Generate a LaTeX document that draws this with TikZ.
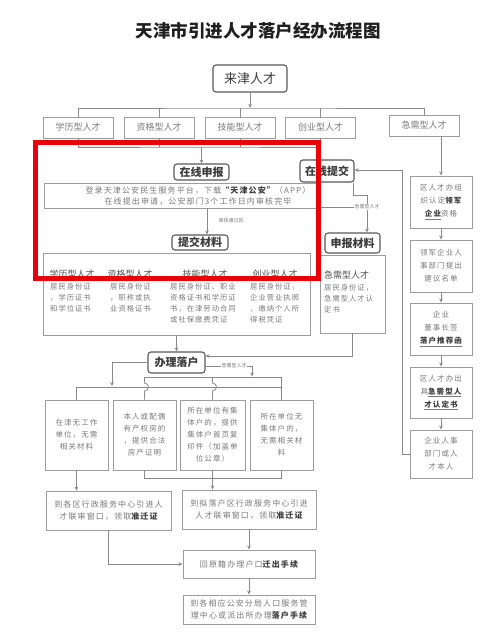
\documentclass[tikz,border=0pt]{standalone}
\usepackage{fontspec}
\setmainfont{Noto Sans CJK SC}
\newfontfamily\tf[LetterSpace=14]{Noto Sans CJK SC}
\usetikzlibrary{arrows.meta}
\definecolor{lc}{HTML}{8A8A8A}
\definecolor{bc}{HTML}{9C9C9C}
\definecolor{tc}{HTML}{7A7A7A}
\definecolor{hc}{HTML}{3C3C3C}
\definecolor{redc}{HTML}{E8000B}
\newcommand{\bk}[1]{{\bfseries\color{hc}#1}}
\newcommand{\bku}[1]{\underline{\bfseries\color{hc}#1}}
\begin{document}
\begin{tikzpicture}[x=1pt,y=-1pt,
 ln/.style={draw=lc, line width=0.8pt},
 arr/.style={ln, -{Stealth[length=4pt,width=3.6pt]}},
 rbox/.style={draw=hc!85, line width=1.1pt, rounded corners=3pt, inner sep=0pt, font=\bfseries\fontsize{11}{13}\selectfont, text=hc},
 sbox/.style={draw=bc, line width=0.9pt, inner sep=0pt},
 cat/.style={sbox, minimum width=70pt, minimum height=21pt, font=\fontsize{9}{11}\selectfont, text=tc},
 sm/.style={font=\tf\fontsize{7.3}{11}\selectfont, text=tc, inner sep=0pt},
 bt/.style={sbox, font=\tf\fontsize{7.5}{12}\selectfont, text=tc, align=center},
 bt8/.style={sbox, font=\tf\fontsize{8}{12}\selectfont, text=tc, align=center},
 hd/.style={font=\fontsize{9}{11}\selectfont, text=hc!90, inner sep=0pt},
 tiny/.style={font=\fontsize{5}{6}\selectfont, text=tc, inner sep=0.6pt, fill=white},
]
\useasboundingbox[fill=white] (0,0) rectangle (487,643);

% title
\node[font=\bfseries\fontsize{17.5}{20}\selectfont, text=black!88] (title) at (258,31) {天津市引进人才落户经办流程图};

% top
\node[rbox, minimum width=74pt, minimum height=27pt, font=\fontsize{13}{15}\selectfont] (laijin) at (250,78.5) {来津人才};
\node[cat] (c1) at (78,127.5) {学历型人才};
\node[cat] (c2) at (159,127.5) {资格型人才};
\node[cat] (c3) at (240,127.5) {技能型人才};
\node[cat] (c4) at (320.5,127.5) {创业型人才};
\node[cat] (c5) at (424,125.5) {急需型人才};

\coordinate (h1) at (250,108);
\draw[arr] (laijin.south) -- (h1);
\draw[ln] (c1.north) |- (h1) -| (c5.north);
\draw[ln] (c2.north) -- (c2.north |- h1);
\draw[ln] (c3.north) -- (c3.north |- h1);
\draw[ln] (c4.north) -- (c4.north |- h1);

% online application
\node[rbox, minimum width=55pt, minimum height=16pt] (zxsb) at (201.5,172) {在线申报};
\coordinate (h2) at (201.5,147);
\draw[ln] (c1.south) |- (h2) -| (c4.south);
\draw[ln] (c2.south) -- (c2.south |- h2);
\draw[ln] (c3.south) -- (c3.south |- h2);
\draw[arr] (h2) -- (zxsb.north);

\node[sbox, minimum width=274pt, minimum height=25pt] (cb1) at (181,195.5) {};
\node[sm, font=\tf\fontsize{8}{11.5}\selectfont, align=center] (cb1t) at (198,196) {登录天津公安民生服务平台，下载\bk{“天津公安”}（APP）\\在线提出申请，公安部门3个工作日内审核完毕};

\node[rbox, minimum width=56pt, minimum height=15pt] (tjcl) at (200,242.5) {提交材料};
\draw[arr] ([xshift=7pt]tjcl.north |- cb1.south) -- ([xshift=7pt]tjcl.north);
\node[tiny, fill=none] (shlab) at (231,221) {审核通过的};

% materials box
\node[sbox, minimum width=267pt, minimum height=82pt] (cb2) at (176.5,294) {};
\node[hd] (m1) at (72,274) {学历型人才};
\node[hd] (m2) at (130,274) {资格型人才};
\node[hd] (m3) at (205,274) {技能型人才};
\node[hd] (m4) at (275,274) {创业型人才};
\node[sm, align=left, anchor=north west] (d1) at (50,283.5) {居民身份证\\，学历证书\\和学位证书};
\node[sm, align=left, anchor=north west] (d2) at (110,283.5) {居民身份证\\，职称或执\\业资格证书};
\node[sm, align=left, anchor=north west] (d3) at (170,283.5) {居民身份证、职业\\资格证书和学历证\\书，在津劳动合同\\或社保缴费凭证};
\node[sm, align=left, anchor=north west] (d4) at (250,283.5) {居民身份证，\\企业营业执照\\，缴纳个人所\\得税凭证};

% urgent branch
\node[rbox, minimum width=54pt, minimum height=22pt] (zxtj) at (327,171) {在线提交};
\node[rbox, minimum width=55pt, minimum height=20pt] (sbcl) at (352.5,243) {申报材料};
\node[sbox, minimum width=65pt, minimum height=78pt] (jxb) at (352.5,294) {};
\node[hd, anchor=west] (jxh) at (324,275) {急需型人才};
\node[sm, align=left, anchor=north west] (jxd) at (324,284) {居民身份证，\\急需型人才认\\定书};

\coordinate (k1) at (367,195);
\draw[arr] ([xshift=-1pt]zxtj.south east) |- (k1) -- (k1 |- sbcl.north);
\node[tiny] (jxlab) at (367,207) {急需型人才};
\draw[ln] (cb1.south east |- jxlab.west) -- (jxlab.west);

% right column
\node[bt, minimum width=62pt, minimum height=52pt, font=\tf\fontsize{7.5}{13}\selectfont] (r1) at (441,202) {区人才办组\\织认定\bk{领军}\\\bku{企业}资格};
\node[bt, minimum width=62pt, minimum height=52pt, font=\tf\fontsize{7.5}{13}\selectfont] (r2) at (441,266) {领军企业人\\事部门提出\\建议名单};
\node[bt, minimum width=62pt, minimum height=52pt, font=\tf\fontsize{7.5}{13}\selectfont] (r3) at (441,329) {企业\\董事长签\\\bku{落户推荐函}};
\node[bt, minimum width=62pt, minimum height=51pt, font=\tf\fontsize{7.5}{13}\selectfont] (r4) at (441,392.5) {区人才办出\\具\bku{急需型人}\\\bku{才认定书}};
\node[bt, minimum width=62pt, minimum height=48pt, font=\tf\fontsize{7.5}{13}\selectfont] (r5) at (441,454) {企业人事\\部门或人\\才本人};

\draw[arr] (r1.north |- c5.south) -- (r1.north);
\draw[arr] (r1.south) -- (r2.north);
\draw[arr] (r2.south) -- (r3.north);
\draw[arr] (r3.south) -- (r4.north);
\draw[arr] (r4.south) -- (r5.north);
\coordinate (k2) at (402,170);
\draw[arr] (r5.west) -| (k2) -- (zxtj.east |- k2);

% settle
\node[rbox, minimum width=57pt, minimum height=21pt] (blh) at (176.5,362.5) {办理落户};
\draw[arr] (cb2.south -| blh.north) -- (blh.north);
\draw[arr] (jxb.south) |- ([yshift=6.5pt]blh.east);

\coordinate (k4) at (112,386);
\draw[arr] (blh.west) -| (k4);
\node[tiny] (jxlab2) at (234,366) {急需型人才};
\draw[ln] ([yshift=-3.5pt]blh.east) -- (jxlab2.west);
\coordinate (k5) at (252,376.5);
\draw[arr] (jxlab2.east) -| (k5);

% four boxes
\node[bt, minimum width=63pt, minimum height=70pt] (bA) at (76.5,435) {在津无工作\\单位，无需\\相关材料};
\node[bt, minimum width=63pt, minimum height=70pt] (bB) at (144.5,435) {本人或配偶\\有产权房的\\，提供合法\\房产证明};
\node[bt, minimum width=65pt, minimum height=70pt] (bC) at (212.5,435) {所在单位有集\\体户的，提供\\集体户首页复\\印件（加盖单\\位公章）};
\node[bt, minimum width=63pt, minimum height=70pt] (bD) at (281.5,435) {所在单位无\\集体户的，\\无需相关材\\料};

\coordinate (L) at (0,387);
\coordinate (U) at (0,377);
\draw[ln] (bA.north) -- (bA.north |- L) -- (bD.north |- L);
\draw[ln] (bB.north |- U) -- (bD.north |- U) -- (bD.north);
\draw[ln] (bB.north |- U) -- ++(0,6) arc[start angle=-90,end angle=90,radius=4] -- (bB.north);
\draw[ln] (bC.north |- U) -- ++(0,6) arc[start angle=-90,end angle=90,radius=4] -- (bC.north);

% lower boxes
\node[bt8, minimum width=125pt, minimum height=39pt] (bE) at (108.5,510.5) {到各区行政服务中心引进人\\才联审窗口，领取\bk{准迁证}};
\node[bt8, minimum width=134pt, minimum height=39pt] (bF) at (249,509.5) {到拟落户区行政服务中心引进\\人才联审窗口，领取\bk{准迁证}};
\node[bt8, minimum width=132pt, minimum height=28pt] (bG) at (249,564) {回原籍办理户口\bk{迁出手续}};
\node[bt8, minimum width=132pt, minimum height=29pt] (bH) at (249,609.5) {到各相应公安分局人口服务管\\理中心或派出所办理\bk{落户手续}};

\coordinate (M) at (0,478);
\draw[arr] (bA.south) -- (bA.south |- bE.north);
\draw[ln] (bB.south) -- (bB.south |- M) -- (bD.south |- M) -- (bD.south);
\draw[ln] (bC.south) -- (bC.south |- M);
\draw[arr] (bC.south |- M) -- (bC.south |- bF.north);
\draw[arr] (bE.south) |- (bG.west);
\draw[arr] (bF.south) -- (bG.north);
\draw[arr] (bG.south) -- (bH.north);

% red annotation frame
\draw[redc, line width=5pt] (35.5,142.5) rectangle (318.5,278.5);
\end{tikzpicture}
\end{document}
